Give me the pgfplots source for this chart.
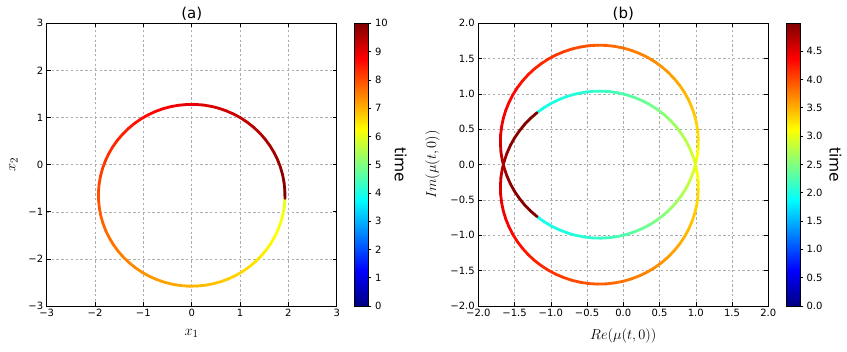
\documentclass[border=0pt]{standalone}
\usepackage{fontspec}
\setmainfont{DejaVu Sans}
\usepackage{pgfplots}
\usepackage{pgfplotstable}
\pgfplotsset{compat=1.18}

\pgfplotstableread{
x y t
1.929 -0.717 6.000
1.916 -0.885 6.056
1.888 -1.051 6.111
1.846 -1.214 6.167
1.789 -1.373 6.222
1.720 -1.526 6.278
1.637 -1.673 6.333
1.541 -1.812 6.389
1.434 -1.941 6.444
1.316 -2.062 6.500
1.188 -2.171 6.556
1.051 -2.269 6.611
0.906 -2.354 6.667
0.754 -2.427 6.722
0.596 -2.486 6.778
0.434 -2.531 6.833
0.269 -2.561 6.889
0.101 -2.577 6.944
-0.067 -2.579 7.000
-0.235 -2.566 7.056
-0.401 -2.538 7.111
-0.564 -2.496 7.167
-0.723 -2.439 7.222
-0.876 -2.370 7.278
-1.023 -2.287 7.333
-1.162 -2.191 7.389
-1.291 -2.084 7.444
-1.412 -1.966 7.500
-1.521 -1.838 7.556
-1.619 -1.701 7.611
-1.704 -1.556 7.667
-1.777 -1.404 7.722
-1.836 -1.246 7.778
-1.881 -1.084 7.833
-1.911 -0.919 7.889
-1.927 -0.751 7.944
-1.929 -0.583 8.000
-1.916 -0.415 8.056
-1.888 -0.249 8.111
-1.846 -0.086 8.167
-1.789 0.073 8.222
-1.720 0.226 8.278
-1.637 0.373 8.333
-1.541 0.512 8.389
-1.434 0.641 8.444
-1.316 0.762 8.500
-1.188 0.871 8.556
-1.051 0.969 8.611
-0.906 1.054 8.667
-0.754 1.127 8.722
-0.596 1.186 8.778
-0.434 1.231 8.833
-0.269 1.261 8.889
-0.101 1.277 8.944
0.067 1.279 9.000
0.235 1.266 9.056
0.401 1.238 9.111
0.564 1.196 9.167
0.723 1.139 9.222
0.876 1.070 9.278
1.023 0.987 9.333
1.162 0.891 9.389
1.291 0.784 9.444
1.412 0.666 9.500
1.521 0.538 9.556
1.619 0.401 9.611
1.704 0.256 9.667
1.777 0.104 9.722
1.836 -0.054 9.778
1.881 -0.216 9.833
1.911 -0.381 9.889
1.927 -0.549 9.944
1.929 -0.717 10.000
}\loopA

\pgfplotstableread{
x y t
-1.189 -0.736 1.950
-1.093 -0.807 1.972
-0.992 -0.869 1.994
-0.885 -0.922 2.016
-0.774 -0.966 2.037
-0.660 -0.999 2.059
-0.544 -1.023 2.081
-0.425 -1.037 2.106
-0.306 -1.040 2.130
-0.187 -1.033 2.180
-0.070 -1.015 2.230
0.046 -0.987 2.280
0.159 -0.949 2.330
0.268 -0.902 2.380
0.373 -0.845 2.430
0.472 -0.779 2.483
0.566 -0.705 2.536
0.652 -0.623 2.595
0.731 -0.534 2.654
0.802 -0.438 2.713
0.864 -0.337 2.772
0.917 -0.230 2.832
0.961 -0.119 2.891
0.995 -0.005 2.974
1.018 0.111 3.057
1.032 0.230 3.158
1.035 0.349 3.258
1.028 0.468 3.297
1.010 0.585 3.336
0.982 0.701 3.375
0.944 0.814 3.413
0.897 0.923 3.452
0.840 1.028 3.491
0.774 1.127 3.530
0.700 1.220 3.569
0.618 1.307 3.605
0.529 1.386 3.640
0.433 1.457 3.674
0.332 1.519 3.707
0.225 1.572 3.740
0.114 1.616 3.773
0.000 1.650 3.807
-0.117 1.673 3.840
-0.235 1.687 3.874
-0.354 1.690 3.908
-0.473 1.683 3.947
-0.591 1.665 3.986
-0.706 1.637 4.025
-0.819 1.599 4.063
-0.928 1.552 4.102
-1.033 1.495 4.141
-1.132 1.429 4.180
-1.226 1.355 4.219
-1.312 1.273 4.251
-1.391 1.184 4.283
-1.462 1.088 4.311
-1.524 0.987 4.339
-1.577 0.880 4.367
-1.621 0.769 4.394
-1.655 0.655 4.422
-1.678 0.539 4.450
-1.692 0.420 4.500
-1.695 0.301 4.550
-1.688 0.182 4.635
-1.670 0.065 4.720
-1.642 -0.051 4.800
-1.604 -0.164 4.880
-1.557 -0.273 4.910
-1.500 -0.378 4.940
-1.434 -0.477 4.955
-1.360 -0.571 4.970
-1.278 -0.657 4.980
-1.189 -0.736 4.990
}\branchU

\pgfplotstableread{
x y t
-1.189 0.736 1.950
-1.093 0.807 1.972
-0.992 0.869 1.994
-0.885 0.922 2.016
-0.774 0.966 2.037
-0.660 0.999 2.059
-0.544 1.023 2.081
-0.425 1.037 2.106
-0.306 1.040 2.130
-0.187 1.033 2.180
-0.070 1.015 2.230
0.046 0.987 2.280
0.159 0.949 2.330
0.268 0.902 2.380
0.373 0.845 2.430
0.472 0.779 2.483
0.566 0.705 2.536
0.652 0.623 2.595
0.731 0.534 2.654
0.802 0.438 2.713
0.864 0.337 2.772
0.917 0.230 2.832
0.961 0.119 2.891
0.995 0.005 2.974
1.018 -0.111 3.057
1.032 -0.230 3.158
1.035 -0.349 3.258
1.028 -0.468 3.297
1.010 -0.585 3.336
0.982 -0.701 3.375
0.944 -0.814 3.413
0.897 -0.923 3.452
0.840 -1.028 3.491
0.774 -1.127 3.530
0.700 -1.220 3.569
0.618 -1.307 3.605
0.529 -1.386 3.640
0.433 -1.457 3.674
0.332 -1.519 3.707
0.225 -1.572 3.740
0.114 -1.616 3.773
0.000 -1.650 3.807
-0.117 -1.673 3.840
-0.235 -1.687 3.874
-0.354 -1.690 3.908
-0.473 -1.683 3.947
-0.591 -1.665 3.986
-0.706 -1.637 4.025
-0.819 -1.599 4.063
-0.928 -1.552 4.102
-1.033 -1.495 4.141
-1.132 -1.429 4.180
-1.226 -1.355 4.219
-1.312 -1.273 4.251
-1.391 -1.184 4.283
-1.462 -1.088 4.311
-1.524 -0.987 4.339
-1.577 -0.880 4.367
-1.621 -0.769 4.394
-1.655 -0.655 4.422
-1.678 -0.539 4.450
-1.692 -0.420 4.500
-1.695 -0.301 4.550
-1.688 -0.182 4.635
-1.670 -0.065 4.720
-1.642 0.051 4.800
-1.604 0.164 4.880
-1.557 0.273 4.910
-1.500 0.378 4.940
-1.434 0.477 4.955
-1.360 0.571 4.970
-1.278 0.657 4.980
-1.189 0.736 4.990
}\branchL

\pgfplotsset{
  /pgf/number format/assume math mode=true,
  colorbar shift/.style={},
  mystyle/.style={
    scale only axis, width=290pt, height=282.7pt,
    anchor=south west,
    grid=major,
    grid style={gray!65, line width=0.5pt, dash pattern=on 2.4pt off 2.4pt},
    axis line style={line width=0.8pt},
    every tick/.style={black, line width=0.6pt},
    major tick length=4pt,
    tick label style={font=\fontsize{10}{12}\selectfont},
    xlabel style={font=\fontsize{15}{18}\selectfont, yshift=-5pt},
    ylabel style={font=\fontsize{15}{18}\selectfont, yshift=4pt},
    title style={font=\fontsize{15}{17}\selectfont, yshift=-7pt},
    colormap/jet,
    colorbar,
    colorbar style={
      at={(parent axis.north east)}, anchor=north west,
      xshift=17.8pt,
      scale only axis, width=14pt, height=282.7pt,
      ytick pos=right,
      tick align=outside, major tick length=3pt,
      yticklabel pos=right,
      ylabel={time},
      ylabel style={font=\fontsize{15.5}{18}\selectfont, rotate=180},
      tick label style={font=\fontsize{10}{12}\selectfont},
      axis line style={line width=0.8pt},
    },
  },
}

\begin{document}
\begin{tikzpicture}
\useasboundingbox (0,0) rectangle (847pt,352pt);
\begin{axis}[mystyle, at={(46.7pt,46pt)},
  xmin=-3, xmax=3, ymin=-3, ymax=3,
  xtick={-3,-2,-1,0,1,2,3}, ytick={-3,-2,-1,0,1,2,3},
  xticklabels={−3,−2,−1,0,1,2,3}, yticklabels={−3,−2,−1,0,1,2,3},
  xlabel={$x_1$}, ylabel={$x_2$}, title={(a)},
  point meta min=0, point meta max=10,
  colorbar style={ytick={0,1,2,3,4,5,6,7,8,9,10}}]
\addplot[mesh, point meta=explicit, line width=2.8pt, line cap=round] table[x=x, y=y, meta=t] {\loopA};
\end{axis}

\begin{axis}[mystyle, at={(478.3pt,46pt)},
  xmin=-2, xmax=2, ymin=-2, ymax=2,
  xtick={-2,-1.5,-1,-0.5,0,0.5,1,1.5,2}, ytick={-2,-1.5,-1,-0.5,0,0.5,1,1.5,2},
  xticklabels={−2.0,−1.5,−1.0,−0.5,0.0,0.5,1.0,1.5,2.0},
  yticklabels={−2.0,−1.5,−1.0,−0.5,0.0,0.5,1.0,1.5,2.0},
  xlabel={$Re(\mu(t,0))$}, ylabel={$Im(\mu(t,0))$}, title={(b)},
  point meta min=0, point meta max=4.99,
  colorbar style={ytick={0,0.5,1,1.5,2,2.5,3,3.5,4,4.5},
    yticklabels={0.0,0.5,1.0,1.5,2.0,2.5,3.0,3.5,4.0,4.5}}]
\addplot[mesh, point meta=explicit, line width=2.8pt, line cap=round] table[x=x, y=y, meta=t] {\branchU};
\addplot[mesh, point meta=explicit, line width=2.8pt, line cap=round] table[x=x, y=y, meta=t] {\branchL};
\end{axis}
\end{tikzpicture}
\end{document}
